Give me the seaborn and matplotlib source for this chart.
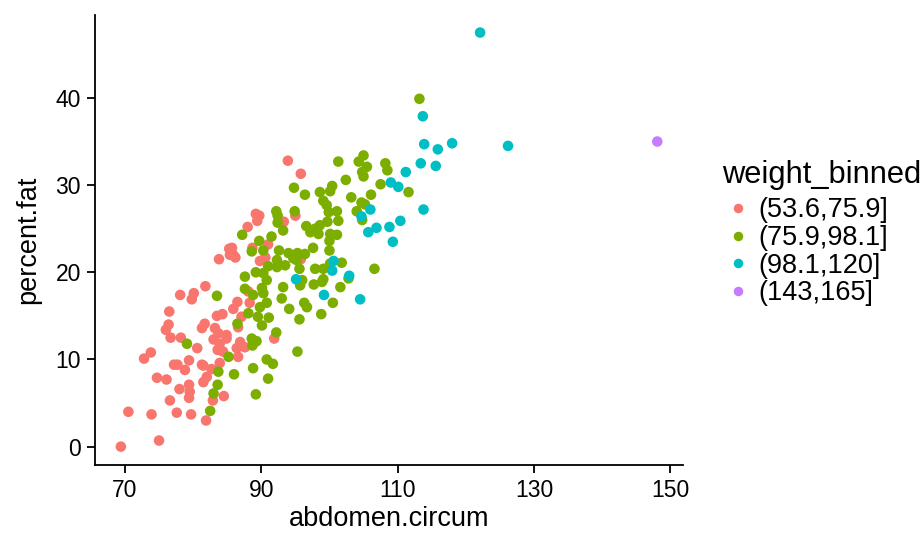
import pandas as pd
import seaborn as sns
import matplotlib.pyplot as plt

# values, one pair of lists per weight bin
bins = ['(53.6,75.9]', '(75.9,98.1]', '(98.1,120]', '(143,165]']
colors = ['#F8766D', '#7CAE00', '#00BFC4', '#C77CFF']

abd_1 = [69.4, 75.0, 70.5, 73.9, 77.6, 79.7, 81.9, 82.9, 84.5, 76.6, 79.4, 79.5, 79.4, 78.0,
         74.7, 76.1, 73.8, 72.8, 77.2, 77.7, 79.4, 78.8, 81.3, 76.7, 78.2, 80.6, 76.0, 76.4,
         76.5, 78.1, 80.1, 79.8, 81.8, 83.5, 84.3, 81.7, 81.3, 83.2, 83.7, 83.0, 83.9, 83.6,
         84.4, 83.9, 82.7, 82.0, 81.5, 84.9, 83.8, 85.3, 85.4, 93.9, 95.8, 89.2, 89.7, 89.4,
         93.3, 95.0, 88.0, 91.0, 88.7, 85.7, 85.9, 86.2, 90.6, 89.8, 88.1, 86.5, 88.3, 85.9,
         87.1, 86.6, 84.9, 91.9, 86.9, 87.6, 86.4, 86.6, 81.5, 95.8]
fat_1 = [0.0, 0.7, 4.0, 3.7, 3.9, 3.7, 3.0, 5.3, 5.8, 5.3, 5.6, 6.3, 7.1, 6.6,
         7.9, 7.7, 10.8, 10.1, 9.4, 9.4, 9.9, 8.8, 9.4, 12.5, 12.5, 11.3, 13.4, 14.0,
         15.5, 17.4, 17.6, 16.9, 18.4, 15.0, 15.2, 14.1, 13.6, 13.6, 13.0, 12.3, 11.8, 11.1,
         10.9, 9.6, 8.9, 8.0, 7.4, 12.8, 21.5, 22.7, 22.0, 32.8, 31.3, 26.7, 26.5, 25.9,
         25.8, 26.5, 25.2, 23.2, 22.8, 22.8, 22.0, 21.7, 21.7, 21.3, 17.8, 16.6, 16.5, 15.8,
         14.9, 13.7, 12.4, 12.4, 12.0, 11.4, 11.3, 10.3, 9.3, 21.5]

abd_2 = [83.5, 79.1, 85.2, 83.7, 83.6, 83.0, 82.5, 94.8, 96.4, 92.2, 92.4, 92.4, 94.9, 93.2,
         87.2, 96.6, 89.7, 91.5, 88.6, 90.3, 92.6, 94.0, 95.3, 96.4, 92.3, 93.5, 95.2, 95.6,
         91.0, 89.2, 90.3, 90.8, 87.6, 95.7, 87.6, 90.1, 93.2, 92.3, 88.8, 90.3, 93.0, 90.8,
         89.8, 94.1, 96.3, 96.7, 88.1, 89.5, 91.1, 86.5, 90.1, 95.6, 92.2, 88.6, 89.3, 88.7,
         95.3, 90.8, 91.7, 88.8, 86.0, 91.0, 89.2, 101.3, 105.0, 104.3, 105.5, 104.8, 105.0,
         108.2, 108.5, 107.5, 102.4, 100.4, 100.1, 98.6, 106.1, 103.2, 104.7, 105.2, 104.0,
         104.8, 99.1, 99.6, 99.9, 101.1, 101.3, 99.7, 98.6, 97.9, 97.2, 98.4, 100.1, 101.1,
         100.0, 100.0, 97.6, 94.7, 97.9, 99.1, 100.1, 101.8, 106.6, 102.8, 97.7, 99.1, 101.6,
         96.0, 98.8, 100.5, 98.9, 113.2, 111.6]
fat_2 = [17.3, 11.8, 10.3, 8.6, 7.1, 6.1, 4.1, 29.7, 28.9, 27.0, 26.5, 25.7, 27.0, 24.8,
         24.3, 25.3, 23.6, 24.1, 22.4, 22.5, 22.5, 22.2, 22.2, 22.1, 21.4, 20.8, 21.4, 20.4,
         20.7, 20.0, 19.9, 19.1, 19.5, 18.5, 18.1, 18.2, 18.3, 20.6, 17.4, 17.6, 17.0, 16.5,
         16.0, 15.8, 16.5, 16.0, 15.3, 14.9, 14.8, 14.1, 13.9, 14.6, 13.1, 12.4, 12.1, 11.6,
         10.9, 10.0, 9.5, 9.0, 8.3, 7.8, 6.0, 32.7, 33.4, 32.7, 32.1, 31.5, 31.0,
         32.5, 31.7, 30.1, 30.6, 29.9, 29.3, 29.2, 28.9, 28.6, 28.0, 27.8, 27.0,
         26.0, 28.2, 27.7, 26.9, 27.0, 25.9, 25.8, 25.4, 25.0, 24.6, 24.4, 24.4, 24.3,
         23.6, 22.5, 22.8, 21.6, 20.4, 20.4, 21.0, 21.1, 20.4, 19.3, 18.6, 19.2, 18.3,
         19.1, 15.2, 16.5, 18.9, 39.9, 29.2]

abd_3 = [122.1, 113.7, 113.9, 115.9, 118.0, 126.2, 111.2, 113.4, 115.6, 109.0, 110.1, 113.8,
         110.4, 108.8, 109.3, 106.0, 104.7, 105.7, 106.9, 100.6, 100.4, 102.9, 95.1, 99.2, 104.5]
fat_3 = [47.5, 37.9, 34.7, 34.1, 34.8, 34.5, 31.5, 32.5, 32.2, 30.3, 29.8, 27.2,
         25.9, 25.2, 23.5, 27.2, 26.4, 24.6, 25.1, 21.3, 20.2, 19.6, 19.2, 17.4, 16.9]

abd_4 = [148.1]
fat_4 = [35.0]

df = pd.concat([
    pd.DataFrame({'abdomen.circum': a, 'percent.fat': f, 'weight_binned': b})
    for a, f, b in zip([abd_1, abd_2, abd_3, abd_4], [fat_1, fat_2, fat_3, fat_4], bins)
])

sns.set_style('ticks')
plt.rcParams['font.family'] = ['Liberation Sans', 'DejaVu Sans']
plt.rcParams['text.color'] = 'black'
plt.rcParams['axes.labelcolor'] = 'black'

fig = plt.figure(figsize=(9.22, 5.4), dpi=100)
ax = fig.add_axes([0.103, 0.139, 0.638, 0.833])

sns.scatterplot(data=df, x='abdomen.circum', y='percent.fat', hue='weight_binned',
                hue_order=bins, palette=colors, s=58, linewidth=0, alpha=1, ax=ax)

ax.set_xlim(65.6, 151.9)
ax.set_ylim(-2.1, 49.5)
ax.set_xticks([70, 90, 110, 130, 150])
ax.set_yticks([0, 10, 20, 30, 40])
sns.despine(ax=ax)
for side in ['left', 'bottom']:
    ax.spines[side].set_linewidth(1.3)
    ax.spines[side].set_color('black')
ax.tick_params(axis='both', labelsize=16.5, width=1.3, length=6, pad=4,
               color='black', labelcolor='black')
ax.set_xlabel('abdomen.circum', fontsize=19.5, labelpad=3)
ax.set_ylabel('percent.fat', fontsize=19.5, labelpad=10)

sns.move_legend(ax, loc='upper left', bbox_to_anchor=(0.783, 0.704),
                bbox_transform=fig.transFigure, frameon=False,
                title='weight_binned', fontsize=19.5, title_fontsize=22.2,
                alignment='left', handlelength=1.2, handletextpad=0.15,
                labelspacing=0.06, markerscale=0.9, borderpad=0, borderaxespad=0)
# a bit more room between the legend title and the first key
ax.get_legend()._legend_box.sep = 5.5

fig.savefig('out.png', dpi=100)
